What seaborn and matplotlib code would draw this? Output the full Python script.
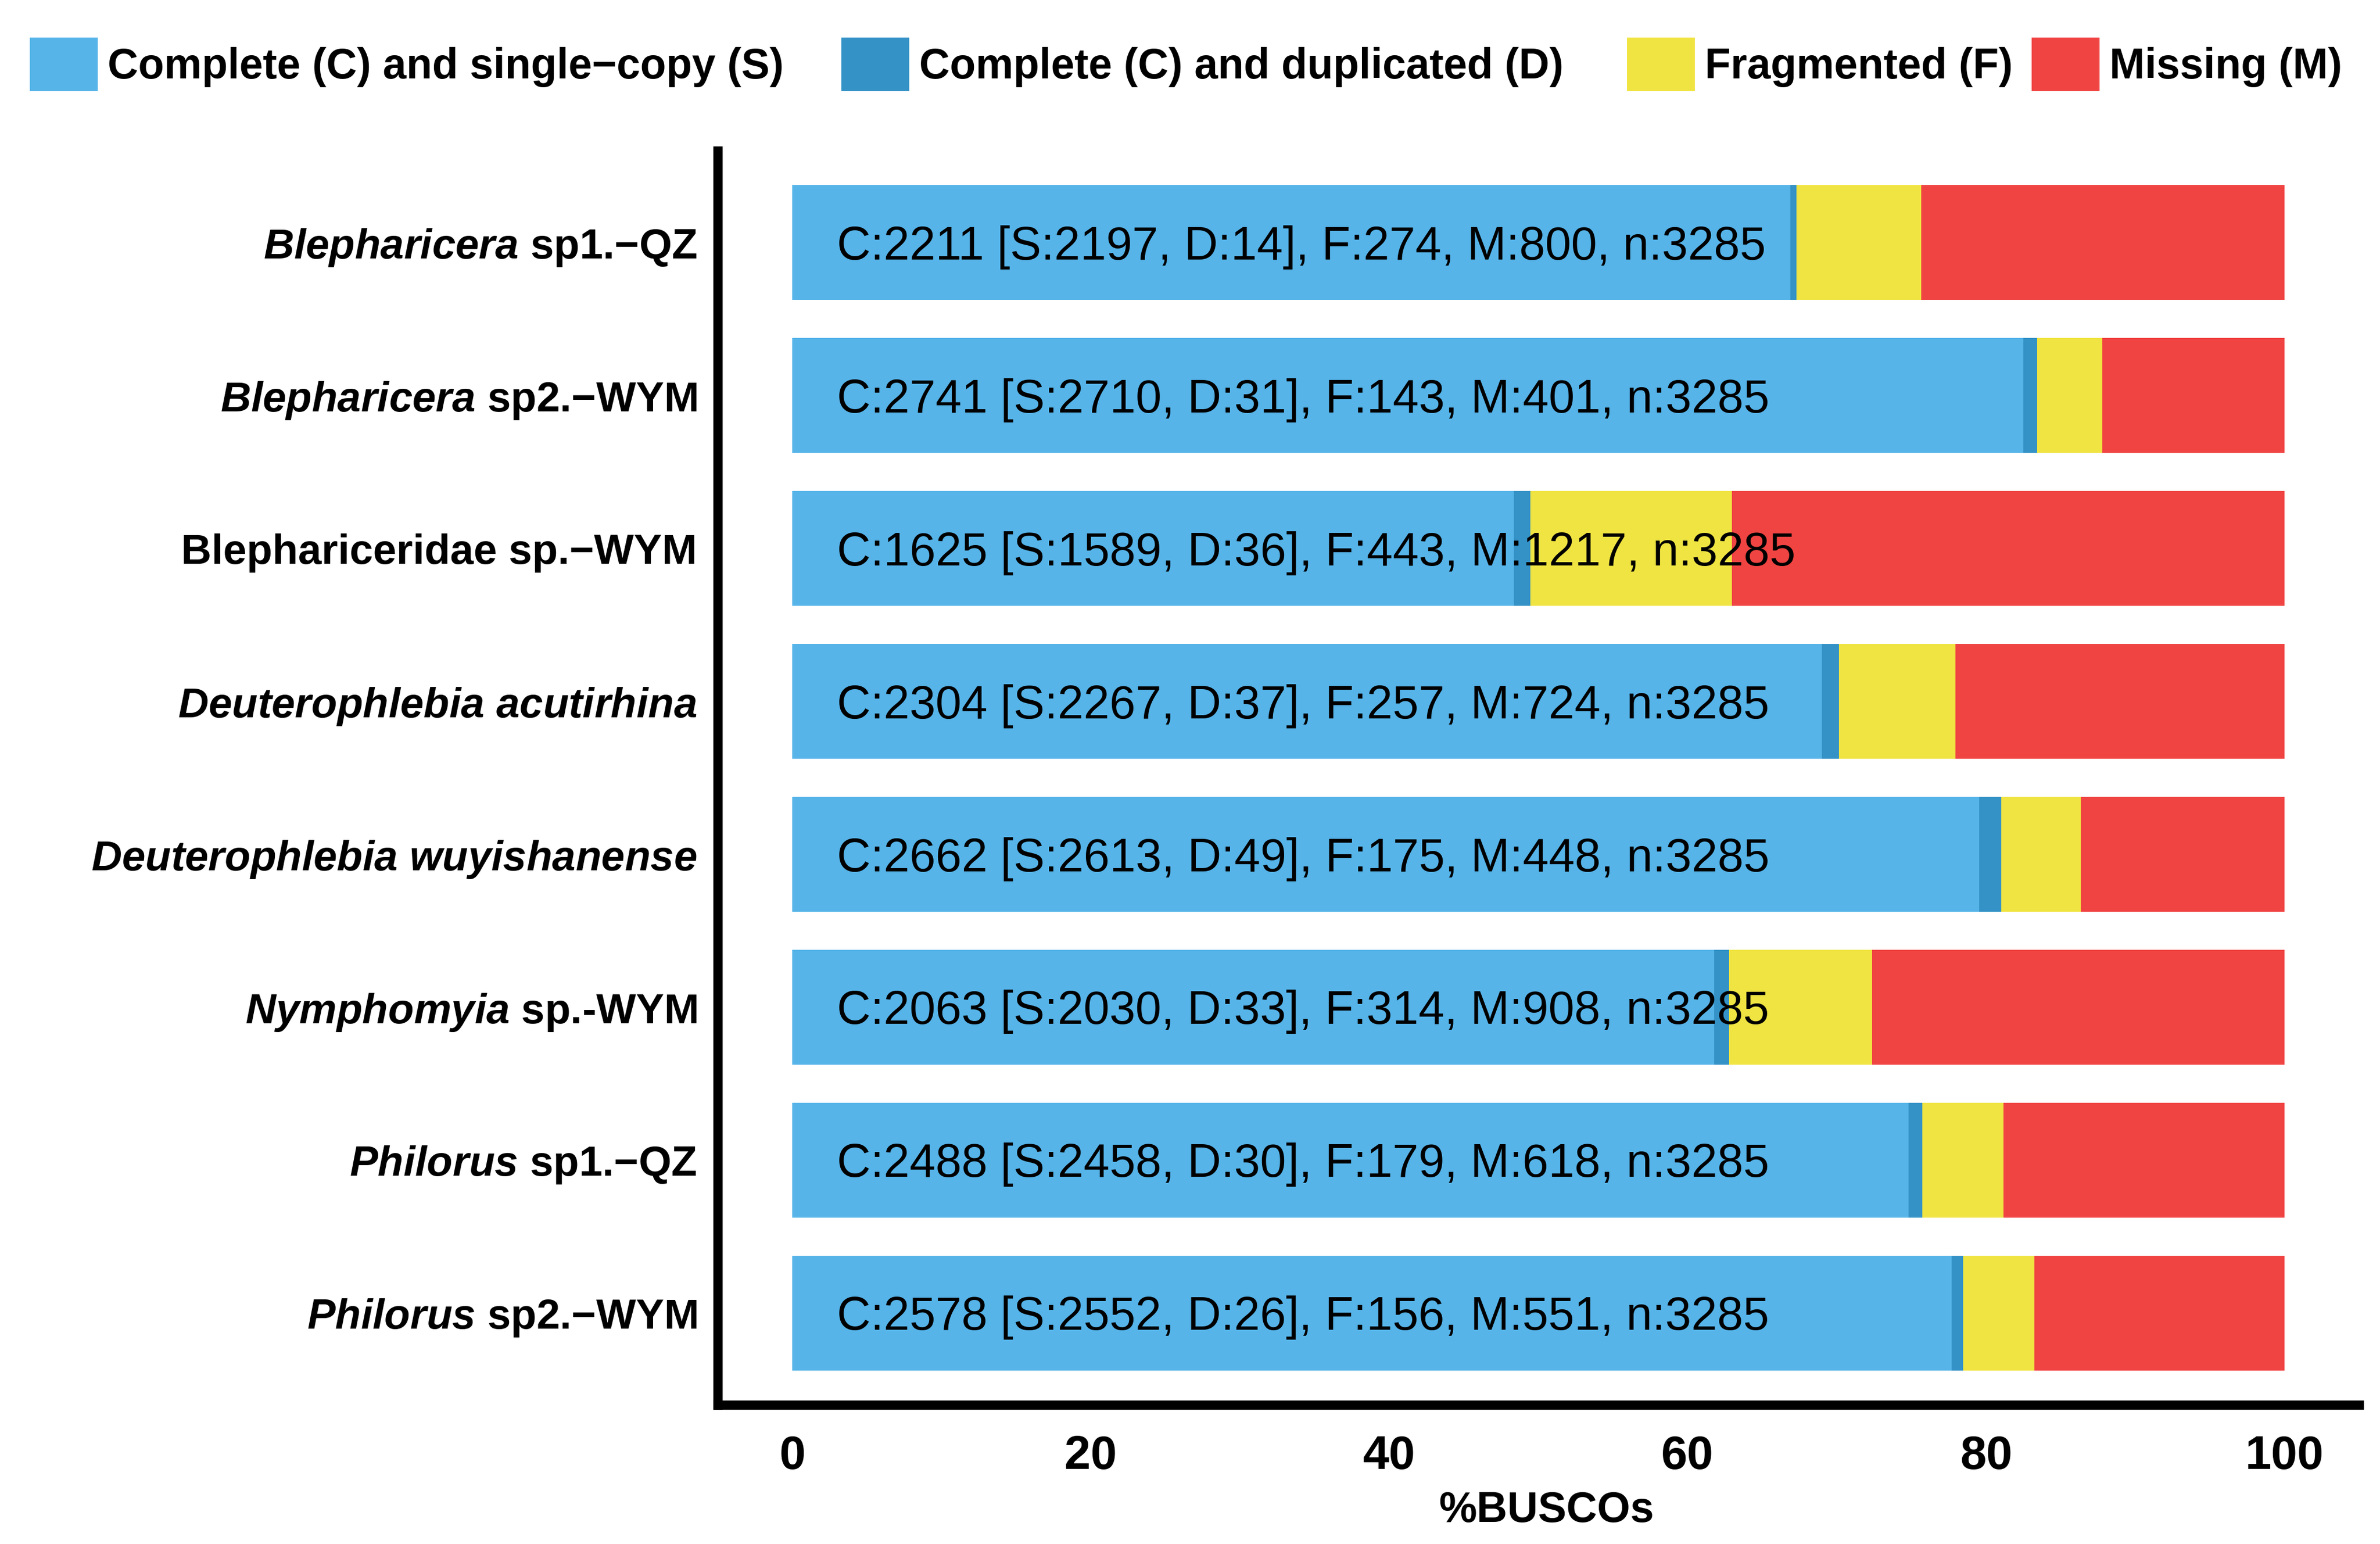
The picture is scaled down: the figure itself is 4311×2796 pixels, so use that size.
import numpy as np
import pandas as pd
import matplotlib
matplotlib.use("Agg")
import matplotlib.pyplot as plt
from matplotlib.patches import Patch
import seaborn as sns

# ---------------- data ----------------
labels = [
    r"$\mathit{Blepharicera}$ sp1.−QZ",
    r"$\mathit{Blepharicera}$ sp2.−WYM",
    "Blephariceridae sp.−WYM",
    r"$\mathit{Deuterophlebia}$ $\mathit{acutirhina}$",
    r"$\mathit{Deuterophlebia}$ $\mathit{wuyishanense}$",
    r"$\mathit{Nymphomyia}$ sp.-WYM",
    r"$\mathit{Philorus}$ sp1.−QZ",
    r"$\mathit{Philorus}$ sp2.−WYM",
]
single = [2197, 2710, 1589, 2267, 2613, 2030, 2458, 2552]
duplicated = [14, 31, 36, 37, 49, 33, 30, 26]
fragmented = [274, 143, 443, 257, 175, 314, 179, 156]
missing = [800, 401, 1217, 724, 448, 908, 618, 551]
n_total = [3285, 3285, 3285, 3285, 3285, 3285, 3285, 3285]

legend_labels = ["Complete (C) and single−copy (S)",
                 "Complete (C) and duplicated (D)",
                 "Fragmented (F)",
                 "Missing (M)"]
colors = ["#56B4E9", "#3492C7", "#F0E442", "#F04442"]
xticks = [0, 20, 40, 60, 80, 100]
xlabel = "%BUSCOs"

# ---------------- style ----------------
sns.set_style("white")
plt.rcParams["font.family"] = ["Liberation Sans", "DejaVu Sans"]
plt.rcParams["mathtext.fontset"] = "custom"
plt.rcParams["mathtext.it"] = "Liberation Sans:italic:bold"
plt.rcParams["mathtext.rm"] = "Liberation Sans:bold"
plt.rcParams["mathtext.bf"] = "Liberation Sans:bold"
for k in ["text.color", "axes.labelcolor", "xtick.color", "ytick.color"]:
    plt.rcParams[k] = "black"

df = pd.DataFrame({"label": labels, "S": single, "D": duplicated,
                   "F": fragmented, "M": missing, "n": n_total})
df["pS"] = df["S"] / df["n"] * 100
df["pSD"] = (df["S"] + df["D"]) / df["n"] * 100
df["pSDF"] = (df["S"] + df["D"] + df["F"]) / df["n"] * 100
df["pAll"] = (df["S"] + df["D"] + df["F"] + df["M"]) / df["n"] * 100

W, H, DPI = 4311, 2796, 300
fig = plt.figure(figsize=(W / DPI, H / DPI), dpi=DPI)
ax = fig.add_axes([1300 / W, 0.0901, 2973 / W, 0.8122])

for col, c in zip(["pAll", "pSDF", "pSD", "pS"], colors[::-1]):
    sns.barplot(data=df, y="label", x=col, order=labels, color=c,
                saturation=1, width=0.75, errorbar=None, orient="h",
                linewidth=0, ax=ax)

# annotations
bars = ax.patches[-len(labels):]
for p, (_, r) in zip(bars, df.iterrows()):
    yc = p.get_y() + p.get_height() / 2
    txt = (f"C:{r.S + r.D} [S:{r.S}, D:{r.D}], F:{r.F}, "
           f"M:{r.M}, n:{r.n}")
    ax.annotate(txt, xy=(3, yc), xytext=(0, -7.3), textcoords="offset points",
                ha="left", va="baseline", fontsize=20.3, color="black")

ax.set_xlim(-5, 105)
ax.set_ylim(len(labels) - 1 + 0.6, -0.6)
ax.set_xticks(xticks)
ax.set_xticklabels([str(t) for t in xticks], fontsize=20.5, fontweight="bold")
ax.set_yticks(range(len(labels)))
ax.set_yticklabels(labels, fontsize=18.3, fontweight="bold")
ax.tick_params(axis="x", length=10, width=1, color="#222222", pad=2.9,
               direction="out")
ax.tick_params(axis="y", length=0, pad=9)
ax.set_ylabel("")
ax.set_xlabel(xlabel, fontsize=18.5, fontweight="bold", labelpad=5, x=0.505)

for s in ["top", "right"]:
    ax.spines[s].set_visible(False)
for s in ["left", "bottom"]:
    ax.spines[s].set_linewidth(4)
    ax.spines[s].set_color("black")
ax.grid(False)

# legend entries placed individually (uneven spacing as in the original)
legend_x = [54, 1524, 2947, 3680]
for lx, c, lab in zip(legend_x, colors, legend_labels):
    leg = fig.legend([Patch(facecolor=c, edgecolor="none", linewidth=0)], [lab],
                     loc="center left", bbox_to_anchor=(lx / W, 0.9583),
                     frameon=False, prop={"weight": "bold", "size": 18.4},
                     handlelength=1.6, handleheight=1.58, handletextpad=0.24,
                     borderpad=0, borderaxespad=0)

fig.savefig("out.png", dpi=DPI)
